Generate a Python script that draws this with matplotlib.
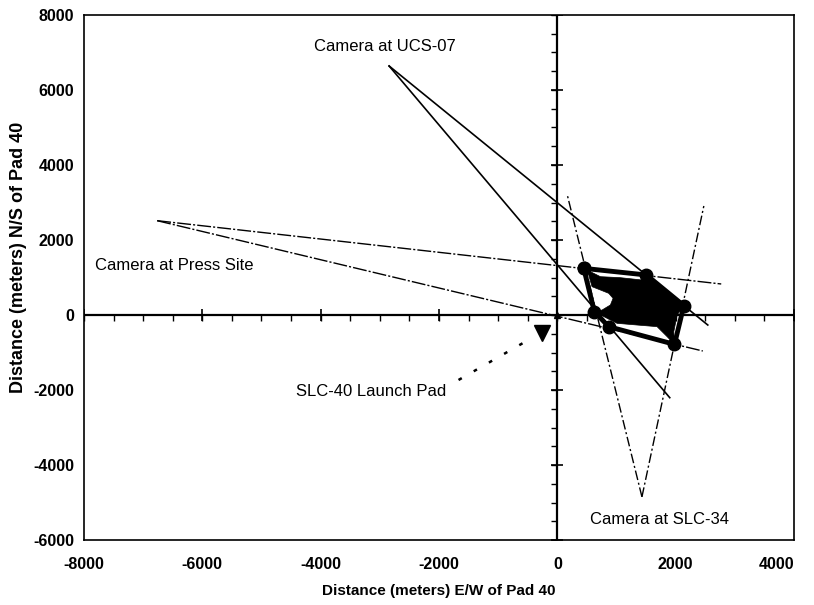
import numpy as np
import matplotlib
matplotlib.use("Agg")
import matplotlib.pyplot as plt

# ---- data (meters relative to Pad 40) ----
ucs07_camera = (-2843, 6640)
ucs07_ray_ends_x = [2543, 1900]
ucs07_ray_ends_y = [-267, -2205]

press_camera = (-6763, 2515)
press_ray_ends_x = [2770, 2459]
press_ray_ends_y = [827, -960]

slc34_camera = (1430, -4850)
slc34_ray_ends_x = [164, 2476]
slc34_ray_ends_y = [3227, 2907]

# intersection polygon (vertices)
poly_x = [446, 1506, 2138, 1980, 869, 626]
poly_y = [1244, 1067, 249, -783, -311, 89]

# filled (black) region inside polygon
blob_x = [446, 728, 1066, 1433, 1506, 2138, 2025, 1968, 1980, 1856, 1686, 1348,
          1010, 897, 626, 756, 897, 942, 869, 728, 587, 530]
blob_y = [1244, 1022, 995, 933, 1067, 249, 0, -445, -783, -578, -311, -267,
          -222, -134, 89, 133, 267, 444, 578, 667, 755, 1067]

pad40 = (0, 0)
launch_pad_marker = (-259, -488)
arrow_start = (-1670, -1733)
arrow_end = (-541, -712)

x_ticks = [-8000, -6000, -4000, -2000, 0, 2000, 4000]
y_ticks = [-6000, -4000, -2000, 0, 2000, 4000, 6000, 8000]

# ---- figure ----
fig = plt.figure(figsize=(8.14, 6.05), dpi=100)
ax = fig.add_axes([84 / 814, 65 / 605, 710 / 814, 525 / 605])
ax.set_xlim(-8000, 4000)
ax.set_ylim(-6000, 8000)

FONT = "Liberation Sans"

# camera rays
for ex, ey in zip(ucs07_ray_ends_x, ucs07_ray_ends_y):
    ax.plot([ucs07_camera[0], ex], [ucs07_camera[1], ey], color="black", lw=1.2, zorder=3)
for ex, ey in zip(press_ray_ends_x, press_ray_ends_y):
    ax.plot([press_camera[0], ex], [press_camera[1], ey], color="black", lw=1.0,
            linestyle=(0, (10, 1.5, 1.5, 1.5)), zorder=3)
for ex, ey in zip(slc34_ray_ends_x, slc34_ray_ends_y):
    ax.plot([slc34_camera[0], ex], [slc34_camera[1], ey], color="black", lw=1.0,
            linestyle=(0, (7, 2, 1.5, 2)), zorder=3)

# center axes
ax.axhline(0, color="black", lw=1.6, zorder=2)
ax.axvline(0, color="black", lw=1.6, zorder=2)
minor = np.arange(-8000, 4001, 500)
ax.plot(minor, np.zeros_like(minor), linestyle="none", marker=3, markersize=4,
        color="black", markeredgewidth=1.0, zorder=2)
ax.plot(x_ticks, np.zeros(len(x_ticks)), linestyle="none", marker="|", markersize=8,
        color="black", markeredgewidth=1.2, zorder=2)
minor_y = np.arange(-6000, 8001, 500)
ax.plot(np.zeros_like(minor_y), minor_y, linestyle="none", marker=0, markersize=4,
        color="black", markeredgewidth=1.0, zorder=2)
ax.plot(np.zeros(len(y_ticks)), y_ticks, linestyle="none", marker="_", markersize=8,
        color="black", markeredgewidth=1.2, zorder=2)

# filled region + polygon
ax.fill(blob_x, blob_y, color="black", lw=0.5, zorder=4)
ax.plot(poly_x + poly_x[:1], poly_y + poly_y[:1], color="black", lw=3.5,
        marker="o", markersize=9, solid_joinstyle="round", zorder=5)

# pad markers
ax.plot(*pad40, marker="^", color="black", markersize=5, zorder=6)
ax.plot(*launch_pad_marker, marker="v", color="black", markersize=12, zorder=6)
ax.plot([arrow_start[0], arrow_end[0]], [arrow_start[1], arrow_end[1]],
        color="black", lw=1.8, linestyle=(0, (1.5, 5.5)), zorder=3)

# labels
tk = dict(fontsize=12, family=FONT, va="center", ha="left")
ax.text(-4112, 7173, "Camera at UCS-07", **tk)
ax.text(-7817, 1307, "Camera at Press Site", **tk)
ax.text(-4416, -2053, "SLC-40 Launch Pad", **tk)
ax.text(558, -5440, "Camera at SLC-34", **tk)

ax.set_xticks(x_ticks)
ax.set_yticks(y_ticks)
ax.set_xticklabels([str(v) for v in x_ticks], fontsize=11.5, fontweight="bold", family=FONT)
ax.set_yticklabels([str(v) for v in y_ticks], fontsize=11.5, fontweight="bold", family=FONT)
ax.get_xticklabels()[-1].set_ha("right")
ax.tick_params(length=0, pad=12)
ax.tick_params(axis="y", pad=7)

ax.set_xlabel("Distance (meters) E/W of Pad 40", fontsize=11, fontweight="bold",
              family=FONT, labelpad=9)
ax.set_ylabel("Distance (meters) N/S of Pad 40", fontsize=13, fontweight="bold",
              family=FONT)
ax.yaxis.set_label_coords(-0.080, 0.539)

for s in ax.spines.values():
    s.set_linewidth(1.2)

fig.savefig("out.png", dpi=100)
